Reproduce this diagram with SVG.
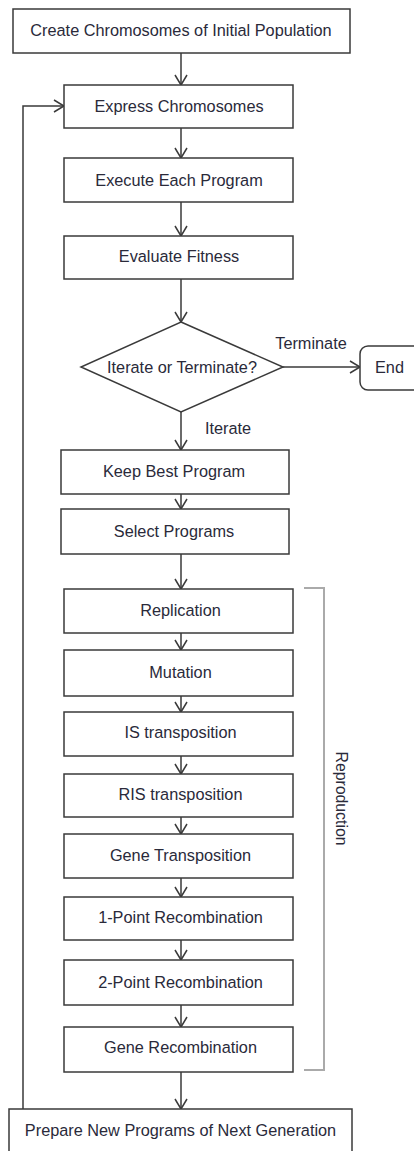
<svg xmlns="http://www.w3.org/2000/svg" width="414" height="1151" viewBox="0 0 414 1151">
<style>
.box{fill:#fff;stroke:#3a3a3a;stroke-width:1.5}
.t{font-family:"Liberation Sans",Arial,sans-serif;font-size:16.3px;fill:#2a2a3a;text-anchor:middle}
.ts{text-anchor:start}
.c{fill:none;stroke:#3a3a3a;stroke-width:1.5}
.br{fill:none;stroke:#aaaaaa;stroke-width:2}
</style>
<defs>
<marker id="ah" markerUnits="userSpaceOnUse" markerWidth="14" markerHeight="14" viewBox="-12 -7 14 14" refX="0" refY="0" orient="auto">
<path d="M-10,-6 L0,0 L-10,6" fill="none" stroke="#3a3a3a" stroke-width="1.5"/>
</marker>
</defs>
<rect width="414" height="1151" fill="#fff"/>
<g id="connectors">
<line class="c" x1="181" y1="53" x2="181" y2="85" marker-end="url(#ah)"/>
<line class="c" x1="181" y1="128" x2="181" y2="158" marker-end="url(#ah)"/>
<line class="c" x1="181" y1="202" x2="181" y2="236" marker-end="url(#ah)"/>
<line class="c" x1="181" y1="279" x2="181" y2="322" marker-end="url(#ah)"/>
<line class="c" x1="283" y1="367" x2="360" y2="367" marker-end="url(#ah)"/>
<line class="c" x1="181" y1="412" x2="181" y2="450" marker-end="url(#ah)"/>
<line class="c" x1="181" y1="494" x2="181" y2="509" marker-end="url(#ah)"/>
<line class="c" x1="181" y1="554" x2="181" y2="589" marker-end="url(#ah)"/>
<line class="c" x1="181" y1="633" x2="181" y2="650" marker-end="url(#ah)"/>
<line class="c" x1="181" y1="696" x2="181" y2="712" marker-end="url(#ah)"/>
<line class="c" x1="181" y1="756" x2="181" y2="774" marker-end="url(#ah)"/>
<line class="c" x1="181" y1="817" x2="181" y2="834" marker-end="url(#ah)"/>
<line class="c" x1="181" y1="878" x2="181" y2="897" marker-end="url(#ah)"/>
<line class="c" x1="181" y1="940" x2="181" y2="960" marker-end="url(#ah)"/>
<line class="c" x1="181" y1="1005" x2="181" y2="1027" marker-end="url(#ah)"/>
<line class="c" x1="181" y1="1072" x2="181" y2="1109" marker-end="url(#ah)"/>
<path class="c" d="M23,1109 V106 H64" marker-end="url(#ah)"/>
<text class="t" x="311" y="349">Terminate</text>
<text class="t ts" x="205" y="434">Iterate</text>
</g>
<g id="n-create"><rect class="box" x="13" y="9" width="337" height="44"/><text class="t" x="181" y="36">Create Chromosomes of Initial Population</text></g>
<g id="n-express"><rect class="box" x="64" y="85" width="229" height="43"/><text class="t" x="179" y="112">Express Chromosomes</text></g>
<g id="n-execute"><rect class="box" x="64" y="158" width="229" height="44"/><text class="t" x="179" y="186">Execute Each Program</text></g>
<g id="n-evaluate"><rect class="box" x="64" y="236" width="229" height="43"/><text class="t" x="179" y="262">Evaluate Fitness</text></g>
<g id="n-decision"><polygon class="box" points="181,322 283,367 181,412 81,367"/><text class="t" x="182" y="373">Iterate or Terminate?</text></g>
<g id="n-end"><rect class="box" x="360" y="346" width="70" height="44" rx="8"/><text class="t ts" x="375" y="373">End</text></g>
<g id="n-keep"><rect class="box" x="61" y="450" width="228" height="44"/><text class="t" x="174" y="477">Keep Best Program</text></g>
<g id="n-select"><rect class="box" x="61" y="509" width="228" height="45"/><text class="t" x="174" y="537">Select Programs</text></g>
<g id="n-replication"><rect class="box" x="64" y="589" width="229" height="44"/><text class="t" x="180.5" y="616">Replication</text></g>
<g id="n-mutation"><rect class="box" x="64" y="650" width="229" height="46"/><text class="t" x="180.5" y="678">Mutation</text></g>
<g id="n-is"><rect class="box" x="64" y="712" width="229" height="44"/><text class="t" x="180.5" y="738">IS transposition</text></g>
<g id="n-ris"><rect class="box" x="64" y="774" width="229" height="43"/><text class="t" x="180.5" y="800">RIS transposition</text></g>
<g id="n-genetrans"><rect class="box" x="64" y="834" width="229" height="44"/><text class="t" x="180.5" y="861">Gene Transposition</text></g>
<g id="n-1point"><rect class="box" x="64" y="897" width="229" height="43"/><text class="t" x="180.5" y="923">1-Point Recombination</text></g>
<g id="n-2point"><rect class="box" x="64" y="960" width="229" height="45"/><text class="t" x="180.5" y="988">2-Point Recombination</text></g>
<g id="n-generecomb"><rect class="box" x="64" y="1027" width="229" height="45"/><text class="t" x="180.5" y="1053">Gene Recombination</text></g>
<g id="n-prepare"><rect class="box" x="9" y="1109" width="343" height="50"/><text class="t" x="180.5" y="1136">Prepare New Programs of Next Generation</text></g>
<g id="bracket"><path class="br" d="M304,588 H324 V1070 H304"/><text class="t" transform="translate(336,798.5) rotate(90)" x="0" y="0" style="font-size:15.8px">Reproduction</text></g>
</svg>
